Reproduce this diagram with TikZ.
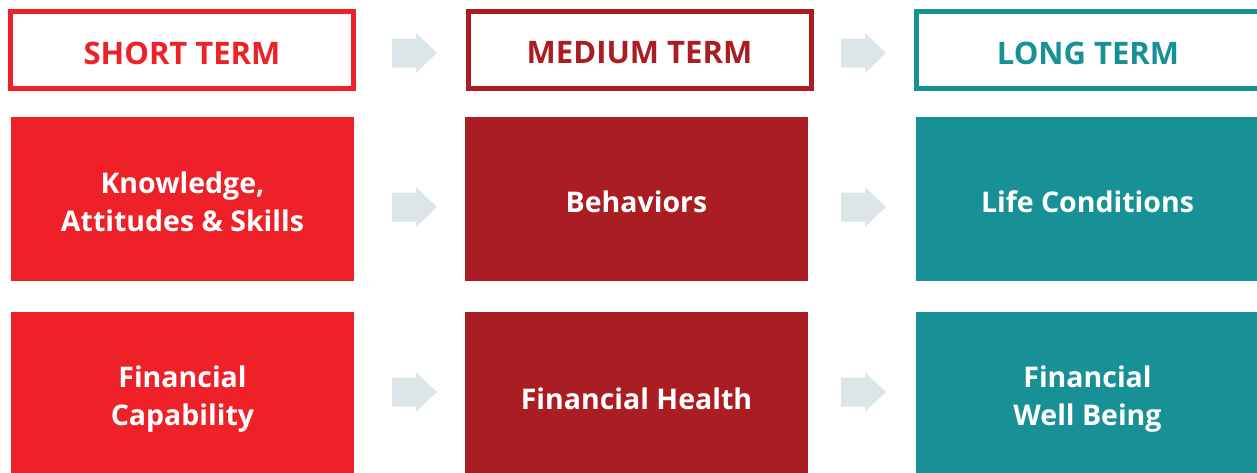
\documentclass[tikz,border=0pt]{standalone}
\usepackage{fontspec}
\setmainfont{Open Sans}
\definecolor{cred}{HTML}{EE2028}
\definecolor{cdark}{HTML}{A91D23}
\definecolor{cteal}{HTML}{179196}
\definecolor{carrow}{HTML}{DCE6E8}
\begin{document}
\begin{tikzpicture}[x=1pt,y=-1pt,
  hdr/.style={draw=#1, line width=5pt, fill=white, minimum width=343pt, minimum height=77pt, inner sep=0pt},
  hdrtext/.style={text=#1, font=\fontsize{31}{36}\selectfont\bfseries, inner sep=0pt},
  body/.style={fill=#1, minimum width=343pt, minimum height=164pt, inner sep=0pt},
  bodytext/.style={text=white, font=\fontsize{28.5}{38.5}\selectfont\bfseries, align=center, inner sep=0pt},
  flow/.style={fill=carrow, draw=none}]
\useasboundingbox (0,0) rectangle (1257,472);
% headers
\node[hdr=cred] (h1) at (182,50) {};
\node[hdr=cdark] (h2) at (639.5,50) {};
\node[hdr=cteal] (h3) at (1088,50) {};
\node[hdrtext=cred] (t1) at ([yshift=-3pt]h1.center) {SHORT TERM};
\node[hdrtext=cdark] (t2) at ([yshift=-3pt]h2.center) {MEDIUM TERM};
\node[hdrtext=cteal] (t3) at ([yshift=-3pt]h3.center) {LONG TERM};
% row 2
\node[body=cred] (a1) at (182.5,199) {};
\node[body=cdark] (a2) at (636.5,199) {};
\node[body=cteal] (a3) at (1087.5,199) {};
\node[bodytext] (ta1) at ([yshift=-3pt]a1.center) {Knowledge,\\Attitudes \& Skills};
\node[bodytext] (ta2) at ([yshift=-2.5pt]a2.center) {Behaviors};
\node[bodytext] (ta3) at ([yshift=-2.5pt]a3.center) {Life Conditions};
% row 3
\node[body=cred, minimum height=168pt] (b1) at (182.5,396) {};
\node[body=cdark, minimum height=168pt] (b2) at (636.5,396) {};
\node[body=cteal, minimum height=168pt] (b3) at (1087.5,396) {};
\node[bodytext] (tb1) at ([yshift=-3pt]b1.center) {Financial\\Capability};
\node[bodytext] (tb2) at ([yshift=-2.5pt]b2.center) {Financial Health};
\node[bodytext] (tb3) at ([yshift=-3pt]b3.center) {Financial\\Well Being};
% arrows
\foreach \x/\y in {392/53, 841/53, 392/207, 841/207, 392/392, 841/392}{
  \fill[flow] (\x,\y-14.5) -- ++(24,0) -- ++(0,-5.5) -- ++(21,20) -- ++(-21,20) -- ++(0,-5.5) -- ++(-24,0) -- cycle;
}
\end{tikzpicture}
\end{document}
